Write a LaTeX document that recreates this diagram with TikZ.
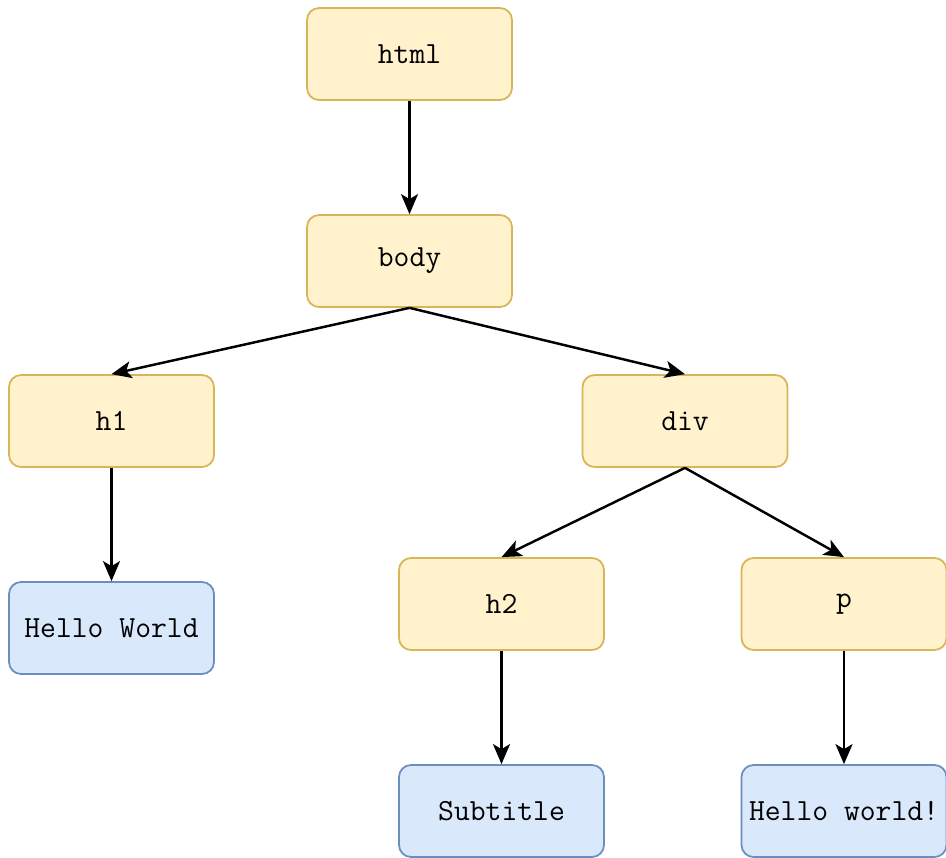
\documentclass[tikz,border=0pt]{standalone}
\usetikzlibrary{arrows.meta}
\definecolor{tagfill}{HTML}{FFF2CC}
\definecolor{tagline}{HTML}{D6B656}
\definecolor{textfill}{HTML}{DAE8FC}
\definecolor{textline}{HTML}{6C8EBF}
\tikzset{
	elem/.style={draw=tagline, fill=tagfill, line width=1pt, rounded corners=0.24cm,
		minimum width=4.1cm, minimum height=1.84cm, inner sep=0pt,
		font=\ttfamily\fontsize{17.5}{20}\selectfont},
	textnode/.style={elem, draw=textline, fill=textfill},
	link/.style={line width=1.4pt, -{Stealth[length=0.4cm, width=0.34cm, inset=0.1cm]}}
}
\begin{document}
\begin{tikzpicture}[x=0.02cm, y=-0.02cm]
	
	\useasboundingbox (0,0) rectangle (946,858);
	
	%% ELEMENTS
	\node[elem] (html) at (409.5, 54) {html};
	\node[elem] (body) at (409.5, 261) {body};
	\node[elem] (h1)   at (111.5, 421) {h1};
	\node[elem] (div)  at (685, 421) {div};
	\node[elem] (h2)   at (501.5, 604) {h2};
	\node[elem] (p)    at (844, 604) {p};
	
	%% TEXT
	\node[textnode] (hello)    at (111.5, 628) {Hello World};
	\node[textnode] (subtitle) at (501.5, 811) {Subtitle};
	\node[textnode] (helloagain) at (844, 811) {Hello world!};
	
	% Links
	\foreach \a/\b in {html/body, body/h1, body/div, h1/hello, div/h2, div/p, h2/subtitle, p/helloagain}
	{
		\draw [link] (\a.south) -- (\b.north);
	}
	
\end{tikzpicture}
\end{document}
